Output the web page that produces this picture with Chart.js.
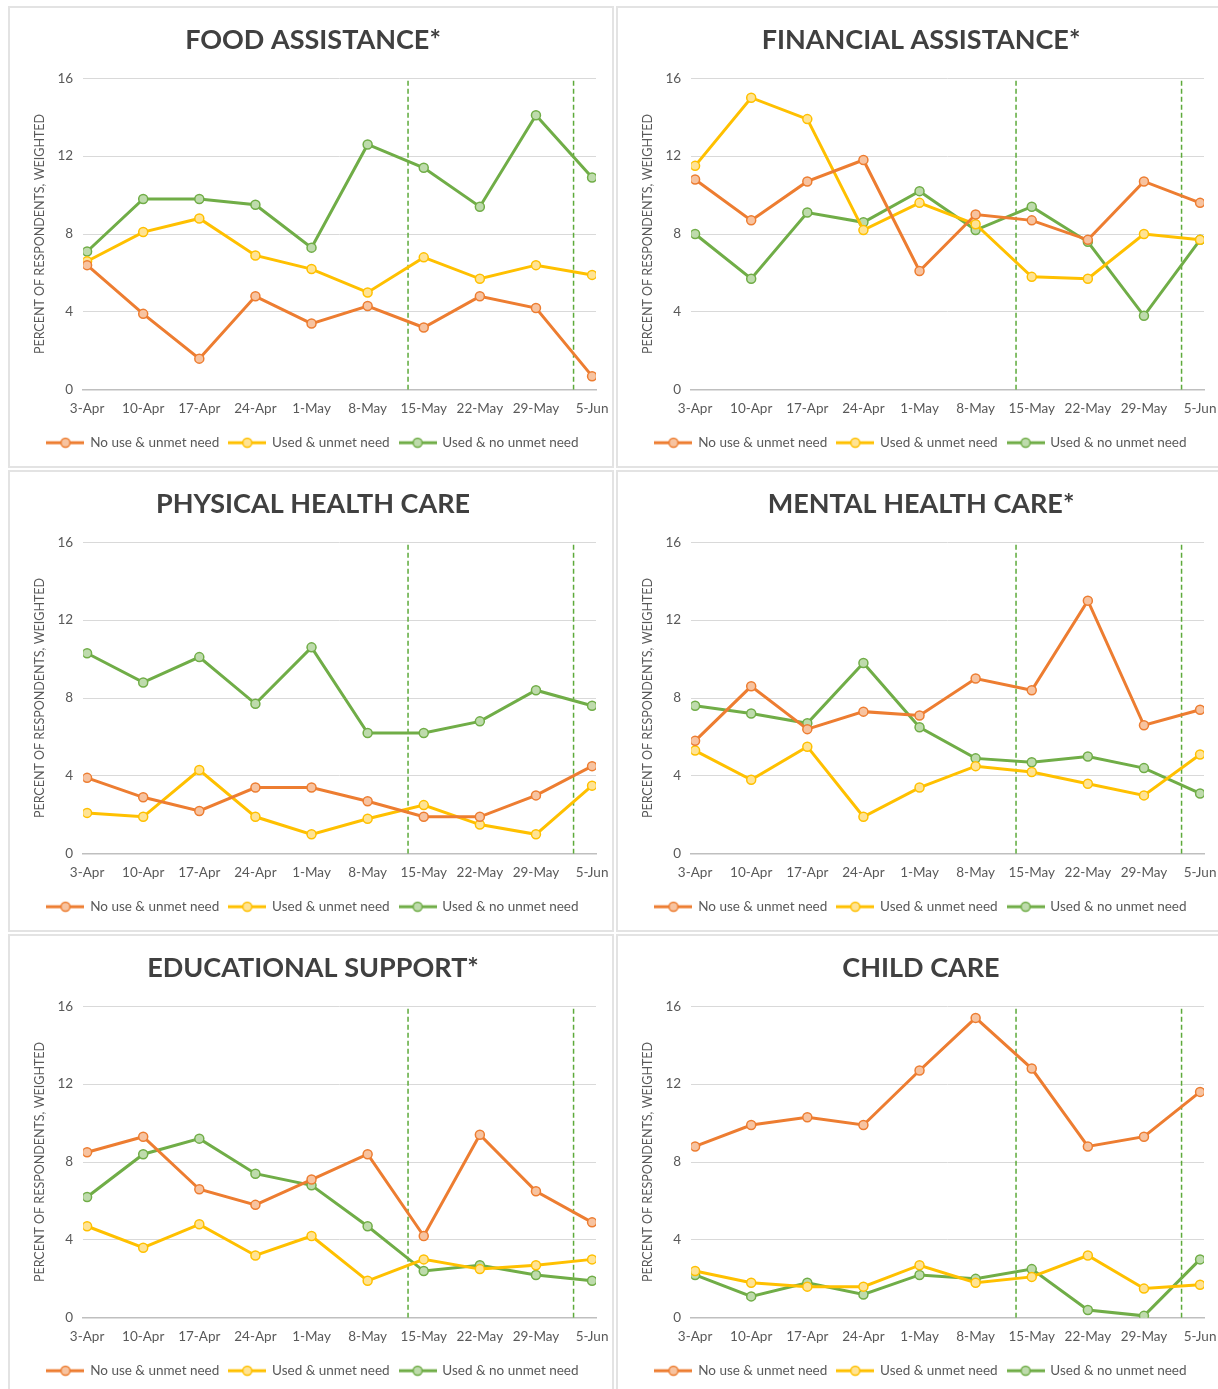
<!DOCTYPE html>
<html>
<head>
<meta charset="utf-8">
<script src="https://cdn.jsdelivr.net/npm/chart.js@4.4.0/dist/chart.umd.min.js"></script>
<style>
  body { margin: 0; background: #fff; overflow: hidden; }
  #wrap { position: relative; width: 1218px; height: 1389px; overflow: hidden; }
  .panel { position: absolute; width: 606px; height: 462px; border: 2px solid #e3e3e3; box-sizing: border-box; background: #fff; }
  .panel canvas { display: block; }
</style>
</head>
<body>
<div id="wrap">
  <div class="panel" style="left:8px;top:6px"><canvas id="c0" width="602" height="458"></canvas></div>
  <div class="panel" style="left:616px;top:6px"><canvas id="c1" width="602" height="458"></canvas></div>
  <div class="panel" style="left:8px;top:470px"><canvas id="c2" width="602" height="458"></canvas></div>
  <div class="panel" style="left:616px;top:470px"><canvas id="c3" width="602" height="458"></canvas></div>
  <div class="panel" style="left:8px;top:934px"><canvas id="c4" width="602" height="458"></canvas></div>
  <div class="panel" style="left:616px;top:934px"><canvas id="c5" width="602" height="458"></canvas></div>
</div>
<script>
const categories = ["3-Apr", "10-Apr", "17-Apr", "24-Apr", "1-May", "8-May", "15-May", "22-May", "29-May", "5-Jun"];
const seriesNames = ["No use & unmet need", "Used & unmet need", "Used & no unmet need"];
const yTicks = [0, 4, 8, 12, 16];
// dashed markers sit between weeks (in category units)
const phaseLines = [5.72, 8.67];

const foodNoUse   = [6.4, 3.9, 1.6, 4.8, 3.4, 4.3, 3.2, 4.8, 4.2, 0.7];
const foodUsed    = [6.6, 8.1, 8.8, 6.9, 6.2, 5.0, 6.8, 5.7, 6.4, 5.9];
const foodNoNeed  = [7.1, 9.8, 9.8, 9.5, 7.3, 12.6, 11.4, 9.4, 14.1, 10.9];

const finNoUse    = [10.8, 8.7, 10.7, 11.8, 6.1, 9.0, 8.7, 7.7, 10.7, 9.6];
const finUsed     = [11.5, 15.0, 13.9, 8.2, 9.6, 8.5, 5.8, 5.7, 8.0, 7.7];
const finNoNeed   = [8.0, 5.7, 9.1, 8.6, 10.2, 8.2, 9.4, 7.6, 3.8, 7.7];

const physNoUse   = [3.9, 2.9, 2.2, 3.4, 3.4, 2.7, 1.9, 1.9, 3.0, 4.5];
const physUsed    = [2.1, 1.9, 4.3, 1.9, 1.0, 1.8, 2.5, 1.5, 1.0, 3.5];
const physNoNeed  = [10.3, 8.8, 10.1, 7.7, 10.6, 6.2, 6.2, 6.8, 8.4, 7.6];

const mentNoUse   = [5.8, 8.6, 6.4, 7.3, 7.1, 9.0, 8.4, 13.0, 6.6, 7.4];
const mentUsed    = [5.3, 3.8, 5.5, 1.9, 3.4, 4.5, 4.2, 3.6, 3.0, 5.1];
const mentNoNeed  = [7.6, 7.2, 6.7, 9.8, 6.5, 4.9, 4.7, 5.0, 4.4, 3.1];

const eduNoUse    = [8.5, 9.3, 6.6, 5.8, 7.1, 8.4, 4.2, 9.4, 6.5, 4.9];
const eduUsed     = [4.7, 3.6, 4.8, 3.2, 4.2, 1.9, 3.0, 2.5, 2.7, 3.0];
const eduNoNeed   = [6.2, 8.4, 9.2, 7.4, 6.8, 4.7, 2.4, 2.7, 2.2, 1.9];

const childNoUse  = [8.8, 9.9, 10.3, 9.9, 12.7, 15.4, 12.8, 8.8, 9.3, 11.6];
const childUsed   = [2.4, 1.8, 1.6, 1.6, 2.7, 1.8, 2.1, 3.2, 1.5, 1.7];
const childNoNeed = [2.2, 1.1, 1.8, 1.2, 2.2, 2.0, 2.5, 0.4, 0.1, 3.0];

const panels = [
  { title: "FOOD ASSISTANCE*", series: [foodNoUse, foodUsed, foodNoNeed] },
  { title: "FINANCIAL ASSISTANCE*", series: [finNoUse, finUsed, finNoNeed] },
  { title: "PHYSICAL HEALTH CARE", series: [physNoUse, physUsed, physNoNeed] },
  { title: "MENTAL HEALTH CARE*", series: [mentNoUse, mentUsed, mentNoNeed] },
  { title: "EDUCATIONAL SUPPORT*", series: [eduNoUse, eduUsed, eduNoNeed] },
  { title: "CHILD CARE", series: [childNoUse, childUsed, childNoNeed] }
];

const lineColors = ["#ED7D31", "#FFC000", "#70AD47"];
const markerFills = ["#F7C3A0", "#FFE394", "#BEDBAC"];
const textColor = "#595959";
const fontFamily = "Lato, 'Open Sans', sans-serif";

// legend icon: short line with a marker in the middle, like the Excel legend
function legendIcon(i) {
  const c = document.createElement("canvas");
  c.width = 38; c.height = 12;
  const g = c.getContext("2d");
  g.strokeStyle = lineColors[i];
  g.lineWidth = 3;
  g.beginPath(); g.moveTo(0, 6); g.lineTo(38, 6); g.stroke();
  g.beginPath(); g.arc(19, 6, 4.5, 0, Math.PI * 2);
  g.fillStyle = markerFills[i]; g.fill();
  g.lineWidth = 1.5; g.stroke();
  return c;
}
const icons = [0, 1, 2].map(legendIcon);

function makeChart(id, title, series) {
  const datasets = series.map((vals, i) => ({
    label: seriesNames[i],
    data: vals.map((y, x) => ({ x, y })),
    borderColor: lineColors[i],
    backgroundColor: markerFills[i],
    pointBackgroundColor: markerFills[i],
    pointBorderColor: lineColors[i],
    pointBorderWidth: 1.5,
    pointRadius: 4.5,
    borderWidth: 3,
    tension: 0
  }));
  phaseLines.forEach(x => {
    datasets.push({
      label: "",
      data: [{ x, y: 0 }, { x, y: 16 }],
      borderColor: "#5DAA3A",
      borderWidth: 1.5,
      borderDash: [5, 3],
      pointRadius: 0
    });
  });

  new Chart(document.getElementById(id), {
    type: "line",
    data: { datasets },
    options: {
      responsive: false,
      animation: false,
      layout: { padding: { left: 8, right: 4, top: 0, bottom: 6.5 } },
      plugins: {
        title: {
          display: true, text: title, color: "#404040",
          font: { family: fontFamily, size: 27, weight: "bold" },
          padding: { top: 15.8, bottom: 22 }
        },
        legend: {
          position: "bottom",
          labels: {
            usePointStyle: true, pointStyleWidth: 36, boxHeight: 12,
            color: textColor, font: { family: fontFamily, size: 13.5 }, padding: 10,
            filter: item => item.datasetIndex < 3,
            generateLabels: chart => {
              const items = Chart.defaults.plugins.legend.labels.generateLabels(chart);
              items.forEach(it => { it.pointStyle = icons[it.datasetIndex] || "line"; });
              return items;
            }
          }
        },
        tooltip: { enabled: false }
      },
      scales: {
        x: {
          type: "linear", min: -0.07, max: 9.07,
          afterBuildTicks: ax => { ax.ticks = categories.map((c, i) => ({ value: i })); },
          // let the end labels overhang the plot like Excel does; keep a fixed right margin
          afterFit: ax => { ax.paddingLeft = 0; ax.paddingRight = 16; ax.height -= 2; },
          ticks: {
            callback: v => categories[v], color: textColor,
            font: { family: fontFamily, size: 13.5 }, padding: 11,
            maxRotation: 0, autoSkip: false
          },
          grid: { display: false, drawTicks: false },
          border: { color: "#bfbfbf", width: 1.5 }
        },
        y: {
          min: 0, max: 16,
          afterBuildTicks: ax => { ax.ticks = yTicks.map(v => ({ value: v })); },
          ticks: { color: textColor, font: { family: fontFamily, size: 13.5 }, padding: 10 },
          grid: { color: "#d9d9d9", drawTicks: false },
          border: { display: false },
          title: {
            display: true, text: "PERCENT OF RESPONDENTS, WEIGHTED", color: textColor,
            font: { family: fontFamily, size: 12.5 }, padding: { top: 14.5, bottom: 0 }
          }
        }
      }
    }
  });
}

panels.forEach((p, i) => makeChart("c" + i, p.title, p.series));
</script>
</body>
</html>
